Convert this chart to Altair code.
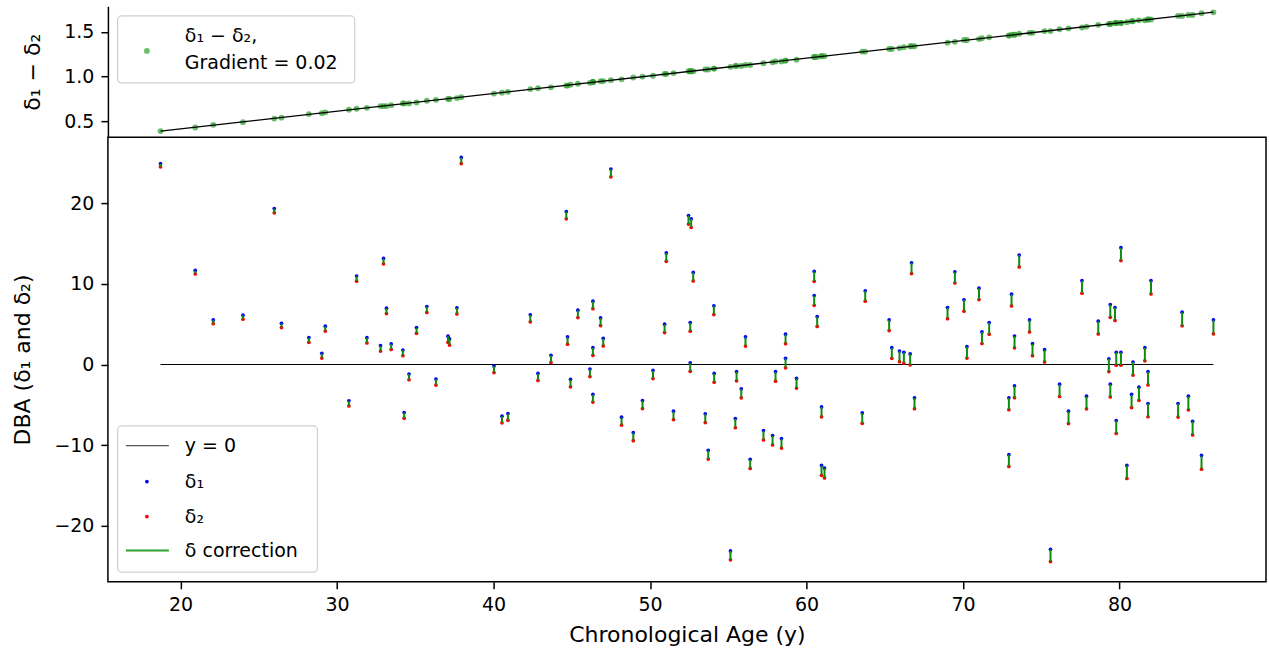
import altair as alt
import pandas as pd

# ---- data ----
ages = [18.72, 20.94, 22.09, 23.99, 25.99, 26.45, 28.20, 29.03, 29.25, 30.76,
        31.25, 31.91, 32.78, 32.97, 33.16, 33.46, 34.21, 34.29, 34.60, 35.08,
        35.74, 36.32, 37.09, 37.19, 37.66, 37.94, 40.03, 40.54, 40.92, 42.35,
        42.84, 43.67, 44.65, 44.73, 44.92, 45.39, 46.16, 46.35, 46.35, 46.35,
        46.84, 47.01, 47.50, 48.18, 48.93, 49.52, 50.19, 50.93, 51.04, 51.50,
        52.46, 52.57, 52.57, 52.63, 52.76, 53.53, 53.72, 54.08, 54.10, 55.14,
        55.45, 55.53, 55.83, 56.10, 56.40, 57.25, 57.83, 58.02, 58.40, 58.66,
        58.66, 59.36, 60.49, 60.49, 60.68, 60.96, 60.96, 61.15, 63.56, 63.75,
        65.28, 65.45, 65.94, 66.22, 66.62, 66.71, 66.90, 69.01, 69.48, 70.06,
        70.25, 71.02, 71.21, 71.67, 72.93, 72.93, 73.10, 73.29, 73.29, 73.59,
        74.25, 74.44, 75.21, 75.59, 76.17, 76.74, 77.60, 77.89, 78.64, 79.32,
        79.41, 79.41, 79.71, 79.79, 79.79, 80.09, 80.09, 80.47, 80.77, 80.86,
        81.24, 81.62, 81.82, 81.82, 82.01, 83.74, 84.00, 84.40, 84.67, 85.24,
        86.00]

delta1 = [24.90, 11.67, 5.53, 6.12, 19.34, 5.12, 3.33, 1.39, 4.75, -4.50,
          10.97, 3.33, 2.34, 13.16, 6.99, 2.55, 1.80, -5.95, -1.18, 4.58,
          7.19, -1.80, 3.51, 3.17, 7.03, 25.68, -0.19, -6.40, -6.07, 6.16,
          -1.10, 1.14, 18.97, 3.42, -1.85, 6.74, -0.56, 7.86, 2.09, -3.71,
          5.78, 3.26, 24.23, -6.53, -8.44, -4.46, -0.73, 5.00, 13.83, -5.78,
          18.47, 5.20, 0.22, 18.06, 11.42, -6.11, -10.63, 7.28, -1.10, -23.10,
          -6.70, -0.89, -3.00, 3.42, -11.75, -8.19, -8.81, -0.89, -9.18, 3.76,
          0.77, -1.72, 11.54, 8.56, 5.95, -5.25, -12.50, -12.83, -6.00, 9.14,
          5.53, 2.09, 1.68, 1.52, 1.31, 12.62, -4.13, 7.07, 11.50, 8.02,
          2.22, 9.47, 4.04, 5.20, -4.13, -11.17, 8.73, 3.54, -2.64, 13.58,
          5.53, 2.59, 1.84, -22.91, -2.43, -5.78, 10.39, -3.92, 5.37, 0.72,
          7.44, -2.43, 7.07, 1.52, -6.94, 1.52, 14.49, -12.50, -3.71, 0.31,
          -2.80, 2.09, -0.89, -4.83, 10.39, -4.83, 6.49, -3.92, -7.03, -11.26,
          5.53]

# delta1 - delta2 (top panel values)
delta_diff = [0.39, 0.43, 0.46, 0.49, 0.53, 0.54, 0.58, 0.59, 0.60, 0.63,
              0.64, 0.65, 0.67, 0.67, 0.67, 0.68, 0.70, 0.70, 0.70, 0.71,
              0.73, 0.74, 0.75, 0.75, 0.76, 0.77, 0.81, 0.82, 0.83, 0.86,
              0.87, 0.88, 0.90, 0.90, 0.91, 0.92, 0.93, 0.94, 0.94, 0.94,
              0.95, 0.95, 0.96, 0.97, 0.99, 1.00, 1.01, 1.03, 1.03, 1.04,
              1.06, 1.06, 1.06, 1.06, 1.06, 1.08, 1.08, 1.09, 1.09, 1.11,
              1.12, 1.12, 1.12, 1.13, 1.13, 1.15, 1.16, 1.17, 1.17, 1.18,
              1.18, 1.19, 1.22, 1.22, 1.22, 1.23, 1.23, 1.23, 1.28, 1.28,
              1.31, 1.31, 1.32, 1.33, 1.34, 1.34, 1.34, 1.38, 1.39, 1.41,
              1.41, 1.42, 1.43, 1.44, 1.46, 1.46, 1.47, 1.47, 1.47, 1.48,
              1.49, 1.49, 1.51, 1.51, 1.53, 1.54, 1.55, 1.56, 1.58, 1.59,
              1.59, 1.59, 1.60, 1.60, 1.60, 1.60, 1.60, 1.61, 1.62, 1.62,
              1.63, 1.63, 1.64, 1.64, 1.64, 1.68, 1.68, 1.69, 1.69, 1.71,
              1.72]

zero_ages = [18.72, 86.00]
zero_vals = [0.0, 0.0]

x_ticks = [20, 30, 40, 50, 60, 70, 80]
top_ticks = [0.5, 1.0, 1.5]
bot_ticks = [-20, -10, 0, 10, 20]

X_DOMAIN = [15.36, 89.36]
TOP_DOMAIN = [0.322, 1.788]
BOT_DOMAIN = [-26.93, 28.19]

df = pd.DataFrame({"age": ages, "d1": delta1, "diff": delta_diff})
df["d2"] = df["d1"] - df["diff"]
zero_df = pd.DataFrame({"age": zero_ages, "v": zero_vals})
one = pd.DataFrame({"k": [0]})

W = 1159
H_TOP = 131
H_BOT = 445
FONT = "DejaVu Sans"
GREEN_PT = "#2ca02c"

xs = alt.Scale(domain=X_DOMAIN, nice=False, zero=False)
ys_top = alt.Scale(domain=TOP_DOMAIN, nice=False, zero=False)
ys_bot = alt.Scale(domain=BOT_DOMAIN, nice=False, zero=False)

# ---------------- top panel ----------------
top_pts = alt.Chart(df).mark_circle(size=34, color=GREEN_PT, opacity=0.7).encode(
    x=alt.X("age:Q", scale=xs, axis=None),
    y=alt.Y("diff:Q", scale=ys_top,
            axis=alt.Axis(values=top_ticks, format=".1f", title="δ₁ − δ₂",
                          titleX=-75, titleBaseline="middle", titleAlign="center",
                          domain=True)),
)
top_line = alt.Chart(df).transform_regression("age", "diff").mark_line(
    color="black", strokeWidth=1.3).encode(x=alt.X("age:Q", scale=xs, axis=None),
                                           y=alt.Y("diff:Q", scale=ys_top))

tl_box = alt.Chart(one).mark_rect(fill="white", fillOpacity=0.85, stroke="#cfcfcf",
                                  strokeWidth=1.2, cornerRadius=4).encode(
    x=alt.value(9.7), x2=alt.value(247), y=alt.value(9.7), y2=alt.value(76.7))
tl_dot = alt.Chart(one).mark_circle(size=34, color=GREEN_PT, opacity=0.7).encode(
    x=alt.value(39), y=alt.value(44.7))
tl_t1 = alt.Chart(one).mark_text(align="left", baseline="middle", font=FONT,
                                 fontSize=19, color="black").encode(
    x=alt.value(77), y=alt.value(30), text=alt.value("δ₁ − δ₂,"))
tl_t2 = alt.Chart(one).mark_text(align="left", baseline="middle", font=FONT,
                                 fontSize=19, color="black").encode(
    x=alt.value(77), y=alt.value(57), text=alt.value("Gradient = 0.02"))

top = alt.layer(top_pts, top_line, tl_box, tl_dot, tl_t1, tl_t2).properties(
    width=W, height=H_TOP, view=alt.ViewBackground(stroke=None))

# ---------------- bottom panel ----------------
xenc = alt.X("age:Q", scale=xs,
             axis=alt.Axis(values=x_ticks, title="Chronological Age (y)",
                           titlePadding=10, domain=False))
zero = alt.Chart(zero_df).mark_line(color="black", strokeWidth=1.1).encode(
    x=xenc,
    y=alt.Y("v:Q", scale=ys_bot,
            axis=alt.Axis(values=bot_ticks, title="DBA (δ₁ and δ₂)",
                          titleX=-85.5, titleBaseline="middle", titleAlign="center",
                          domain=False)))
p1 = alt.Chart(df).mark_circle(size=14, color="blue", opacity=1).encode(
    x=alt.X("age:Q", scale=xs), y=alt.Y("d1:Q", scale=ys_bot))
p2 = alt.Chart(df).mark_circle(size=14, color="red", opacity=1).encode(
    x=alt.X("age:Q", scale=xs), y=alt.Y("d2:Q", scale=ys_bot))
seg = alt.Chart(df).mark_rule(color="#108a10", strokeWidth=2).encode(
    x=alt.X("age:Q", scale=xs), y=alt.Y("d1:Q", scale=ys_bot), y2="d2:Q")

bl_box = alt.Chart(one).mark_rect(fill="white", fillOpacity=0.85, stroke="#cfcfcf",
                                  strokeWidth=1.2, cornerRadius=4).encode(
    x=alt.value(9.7), x2=alt.value(209.7), y=alt.value(289), y2=alt.value(435.3))
bl_l0 = alt.Chart(one).mark_rule(color="#555555", strokeWidth=1.2).encode(
    x=alt.value(18), x2=alt.value(61), y=alt.value(308.7))
bl_d1 = alt.Chart(one).mark_circle(size=14, color="blue", opacity=1).encode(
    x=alt.value(39), y=alt.value(344.7))
bl_d2 = alt.Chart(one).mark_circle(size=14, color="red", opacity=1).encode(
    x=alt.value(39), y=alt.value(379.7))
bl_lc = alt.Chart(one).mark_rule(color="#2ca02c", strokeWidth=2).encode(
    x=alt.value(18), x2=alt.value(61), y=alt.value(413.7))

def leg_text(txt, yv):
    return alt.Chart(one).mark_text(align="left", baseline="middle", font=FONT,
                                    fontSize=19, color="black").encode(
        x=alt.value(77), y=alt.value(yv), text=alt.value(txt))

bottom = alt.layer(zero, p1, p2, seg, bl_box, bl_l0, bl_d1, bl_d2, bl_lc,
                   leg_text("y = 0", 308.7), leg_text("δ₁", 344.7),
                   leg_text("δ₂", 379.7), leg_text("δ correction", 413.7)).properties(
    width=W, height=H_BOT,
    view=alt.ViewBackground(stroke="black", strokeWidth=1.5))

chart = alt.vconcat(top, bottom, spacing=0, bounds="flush").properties(
    padding={"left": 10, "top": 6, "right": 2, "bottom": 3},
    background="white",
).configure_axis(
    labelFont=FONT, titleFont=FONT, labelFontSize=19, titleFontSize=22,
    titleFontWeight="normal", labelColor="black", titleColor="black",
    tickColor="black", tickWidth=1.5, tickSize=7, labelPadding=7, grid=False,
    domainColor="black", domainWidth=1.5,
).configure_view(stroke=None)

chart.save("out.html", embed_options={"renderer": "svg", "actions": False})
